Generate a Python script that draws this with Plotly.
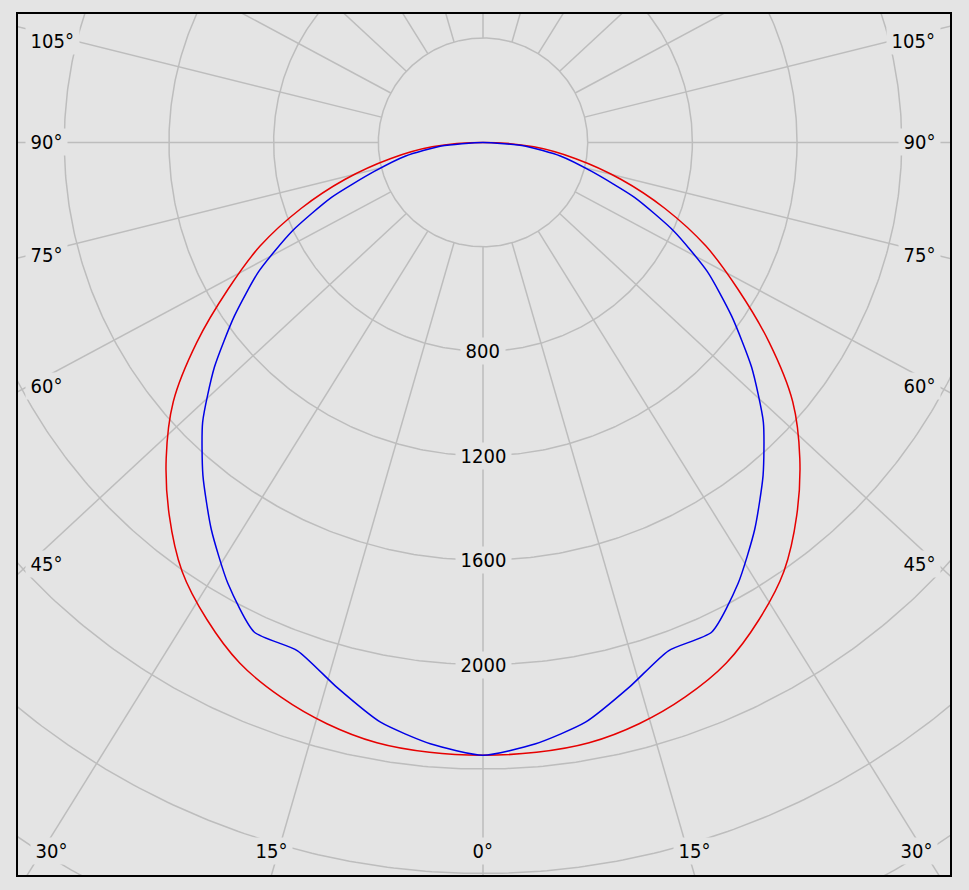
import numpy as np
import plotly.graph_objects as go

# ---- data (luminous intensity, cd) ----
angles_deg = [0, 5, 10, 15, 20, 25, 30, 35, 40, 45, 50, 55, 60, 65, 70, 75, 80, 85, 90]
red_cd = [2347, 2345, 2335, 2305, 2260, 2200, 2110, 2005, 1865, 1712, 1545, 1335,
          1125, 940, 740, 545, 360, 195, 0]
blue_cd = [2347, 2312, 2255, 2160, 2072, 2069, 1950, 1810, 1665, 1515, 1340, 1160,
           990, 805, 616, 430, 300, 160, 0]

ring_values = [400, 800, 1200, 1600, 2000, 2400, 2800, 3200, 3600, 4000]
ring_label_values = [800, 1200, 1600, 2000]
spoke_angles = list(range(-165, 181, 15))
side_label_angles = [105, 90, 75, 60, 45]
bottom_label_angles = [-30, -15, 0, 15, 30]

# ---- style / layout parameters ----
W, H = 969, 890
ML, MR, MT, MB = 18, 19, 12, 15
PX = 0.2617            # pixels per cd
CX, CY = 465.0, 128.7  # centre of diagram inside plot area (px)
SPOKE_K = 1.075        # horizontal stretch of the angle spokes
BG = "#e4e4e4"
GRID = "#bdbdbd"
FONT = "DejaVu Sans Condensed, Noto Sans, sans-serif"
PAD = "\u2009"         # thin space padding inside label boxes

pw, ph = W - ML - MR, H - MT - MB
xmin, xmax = -CX / PX, (pw - CX) / PX
ymax, ymin = CY / PX, -(ph - CY) / PX


def to_xy(theta_deg, r):
    t = np.radians(np.asarray(theta_deg, dtype=float))
    r = np.asarray(r, dtype=float)
    return r * np.sin(t), -r * np.cos(t)


fig = go.Figure()

# rings
rx, ry = [], []
phi = np.linspace(0, 2 * np.pi, 721)
for v in ring_values:
    rx += list(v * np.cos(phi)) + [None]
    ry += list(v * np.sin(phi)) + [None]
fig.add_trace(go.Scatter(x=rx, y=ry, mode="lines", line=dict(color=GRID, width=1.5),
                         hoverinfo="skip", showlegend=False))

# spokes
sx, sy = [], []
for a in spoke_angles:
    t = np.radians(a)
    ux, uy = SPOKE_K * np.sin(t), -np.cos(t)
    n = np.hypot(ux, uy)
    ux, uy = ux / n, uy / n
    sx += [ring_values[0] * ux, 8000 * ux, None]
    sy += [ring_values[0] * uy, 8000 * uy, None]
fig.add_trace(go.Scatter(x=sx, y=sy, mode="lines", line=dict(color=GRID, width=1.5),
                         hoverinfo="skip", showlegend=False))

# curves (symmetric on both half-planes)
full_ang = [-a for a in angles_deg[::-1]] + angles_deg[1:]
for vals, col, sm in [(red_cd, "#e60000", 1.0), (blue_cd, "#0000e6", 0.6)]:
    full_r = vals[::-1] + vals[1:]
    x, y = to_xy(full_ang, full_r)
    fig.add_trace(go.Scatter(x=x, y=y, mode="lines",
                             line=dict(color=col, width=1.5, shape="spline", smoothing=sm),
                             hoverinfo="skip", showlegend=False))

ann = []
font = dict(family=FONT, size=20, color="black")
for v in ring_label_values:
    ann.append(dict(x=0, y=-v, text=f"{PAD}{v}{PAD}", showarrow=False, font=font,
                    bgcolor=BG, borderpad=1, xanchor="center", yanchor="middle"))

# side labels: centred on the spoke where it meets the label's outer edge
LBL_IN = 11  # px from frame to label text edge
PADPX = 4
for a in side_label_angles:
    t = np.radians(a)
    xe = CX - LBL_IN
    y = -np.cos(t) * xe / (SPOKE_K * np.sin(t)) / PX
    y = min(y, ymax - 27 / PX)
    ann.append(dict(x=xmin + (LBL_IN - PADPX) / PX, y=y, text=f"{PAD}{a}°{PAD}",
                    showarrow=False, font=font, bgcolor=BG, borderpad=1,
                    xanchor="left", yanchor="middle"))
    ann.append(dict(x=xmax - (LBL_IN + 2 - PADPX) / PX, y=y, text=f"{PAD}{a}°{PAD}",
                    showarrow=False, font=font, bgcolor=BG, borderpad=1,
                    xanchor="right", yanchor="middle"))

# bottom labels
for a in bottom_label_angles:
    t = np.radians(a)
    x = SPOKE_K * np.tan(t) * (-ymin)
    x = max(min(x, xmax - 34 / PX), xmin + 33 / PX)
    ann.append(dict(x=x, y=ymin + 24 / PX, text=f"{PAD}{abs(a)}°{PAD}", showarrow=False,
                    font=font, bgcolor=BG, borderpad=1, xanchor="center",
                    yanchor="middle"))

fig.update_layout(
    width=W, height=H, margin=dict(l=ML, r=MR, t=MT, b=MB),
    paper_bgcolor=BG, plot_bgcolor=BG, showlegend=False, annotations=ann,
    xaxis=dict(range=[xmin, xmax], showgrid=False, zeroline=False, showticklabels=False,
               ticks="", showline=True, mirror=True, linecolor="black", linewidth=1.5,
               fixedrange=True),
    yaxis=dict(range=[ymin, ymax], showgrid=False, zeroline=False, showticklabels=False,
               ticks="", showline=True, mirror=True, linecolor="black", linewidth=1.5,
               fixedrange=True),
)

fig.write_html(
    "out.html",
    config={"displayModeBar": False},
    post_script="document.body.style.margin='0';document.body.style.background='" + BG + "';",
)
